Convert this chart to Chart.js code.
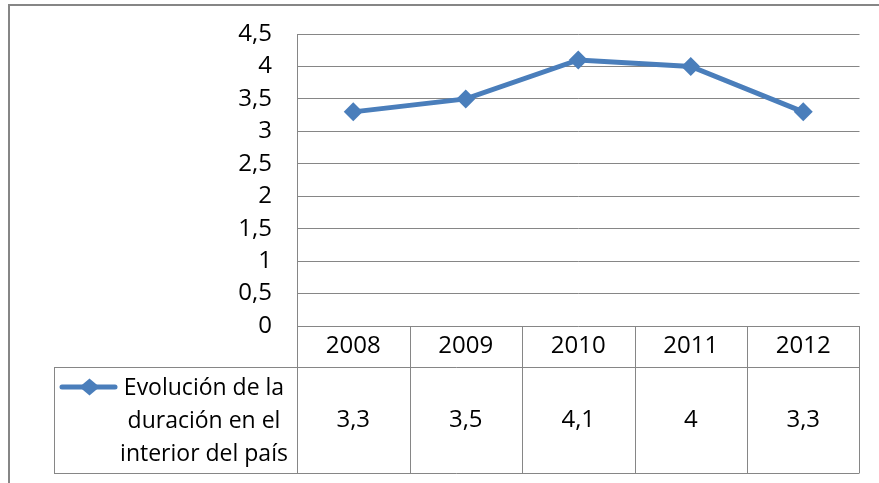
<!DOCTYPE html>
<html>
<head>
<meta charset="utf-8">
<script src="https://cdn.jsdelivr.net/npm/chart.js@4.4.1/dist/chart.umd.min.js"></script>
<style>
  html,body{margin:0;padding:0;background:#fff;}
  #wrap{width:879px;height:483px;position:relative;}
</style>
</head>
<body>
<div id="wrap"><canvas id="c" width="879" height="483"></canvas></div>
<script>
const categories = ['2008', '2009', '2010', '2011', '2012'];
const seriesName = 'Evolución de la duración en el interior del país';
const seriesNameLines = ['Evolución de la', 'duración en el', 'interior del país'];
const seriesValues = [3.3, 3.5, 4.1, 4, 3.3];
const yTicks = [0, 0.5, 1, 1.5, 2, 2.5, 3, 3.5, 4, 4.5];

const FONT = '"Open Sans", Lato, sans-serif';
const FS = 24;
const FS_NAME = 23;
const GRID = '#868686';
const BLUE = '#4a7ebb';
const fmt = v => String(v).replace('.', ',');

const tablePlugin = {
  id: 'dataTable',
  afterDraw(chart) {
    const ctx = chart.ctx;
    const area = chart.chartArea;
    const xs = chart.scales.x;
    const n = categories.length;
    const colW = area.width / n;
    const top = area.bottom;
    const row1 = top + 41;
    const bottom = top + 147;
    const leftCol = 54;
    ctx.save();
    // outer frame (cropped)
    ctx.strokeStyle = GRID;
    ctx.lineWidth = 2;
    ctx.beginPath();
    ctx.moveTo(9, 483); ctx.lineTo(9, 5); ctx.lineTo(879, 5);
    ctx.stroke();
    // table lines
    ctx.lineWidth = 1;
    ctx.strokeStyle = GRID;
    ctx.beginPath();
    for (let i = 0; i <= n; i++) {
      const x = i === n
        ? Math.round(xs.getPixelForValue(n - 1) + colW / 2) - 0.5
        : Math.round(xs.getPixelForValue(i) - colW / 2) + 0.5;
      ctx.moveTo(x, top); ctx.lineTo(x, bottom);
    }
    ctx.moveTo(leftCol + 0.5, row1); ctx.lineTo(leftCol + 0.5, bottom);
    ctx.moveTo(leftCol, Math.round(row1) + 0.5); ctx.lineTo(area.right, Math.round(row1) + 0.5);
    ctx.moveTo(leftCol, Math.round(bottom) + 0.5); ctx.lineTo(area.right, Math.round(bottom) + 0.5);
    ctx.stroke();
    // text
    ctx.fillStyle = '#000';
    ctx.font = FS + 'px ' + FONT;
    ctx.textAlign = 'center';
    ctx.textBaseline = 'middle';
    const r2mid = (row1 + bottom) / 2;
    categories.forEach((c, i) => {
      const cx = xs.getPixelForValue(i);
      ctx.fillText(c, cx, (top + row1) / 2);
      ctx.fillText(fmt(seriesValues[i]), cx, r2mid);
    });
    // legend key
    const ly = row1 + 20;
    ctx.strokeStyle = BLUE;
    ctx.lineWidth = 5;
    ctx.lineCap = 'round';
    ctx.beginPath(); ctx.moveTo(62, ly); ctx.lineTo(115, ly); ctx.stroke();
    ctx.fillStyle = BLUE;
    ctx.beginPath();
    const dx = 10, dy = 8.5, cx0 = 89.5;
    ctx.moveTo(cx0, ly - dy); ctx.lineTo(cx0 + dx, ly); ctx.lineTo(cx0, ly + dy); ctx.lineTo(cx0 - dx, ly);
    ctx.closePath(); ctx.fill();
    // series name
    ctx.fillStyle = '#000';
    ctx.font = FS_NAME + 'px ' + FONT;
    ctx.textAlign = 'center';
    const lineYs = [ly + 1, ly + 34, ly + 67];
    seriesNameLines.forEach((t, i) => ctx.fillText(t, 204, lineYs[i]));
    ctx.restore();
  }
};

new Chart(document.getElementById('c'), {
  type: 'line',
  data: {
    labels: categories,
    datasets: [{
      label: seriesName,
      data: seriesValues,
      borderColor: BLUE,
      backgroundColor: BLUE,
      borderWidth: 5,
      pointStyle: 'rectRot',
      pointRadius: 9.5,
      pointHoverRadius: 9.5,
      pointBorderWidth: 0,
      tension: 0
    }]
  },
  options: {
    responsive: false,
    animation: false,
    devicePixelRatio: 1,
    layout: { padding: { left: 0, right: 19.5, top: 34, bottom: 157 } },
    plugins: { legend: { display: false }, tooltip: { enabled: false } },
    scales: {
      x: { display: false, offset: true },
      y: {
        min: 0, max: 4.5,
        afterBuildTicks: s => { s.ticks = yTicks.map(v => ({ value: v })); },
        afterFit: s => { s.width = 297; s.paddingTop = 0; s.paddingBottom = 0; },
        ticks: {
          color: '#000',
          font: { family: FONT, size: FS },
          padding: 25,
          callback: v => fmt(v)
        },
        grid: { color: GRID, lineWidth: 1, tickLength: 0, drawTicks: false },
        border: { color: GRID, width: 1 }
      }
    }
  },
  plugins: [tablePlugin]
});
</script>
</body>
</html>
